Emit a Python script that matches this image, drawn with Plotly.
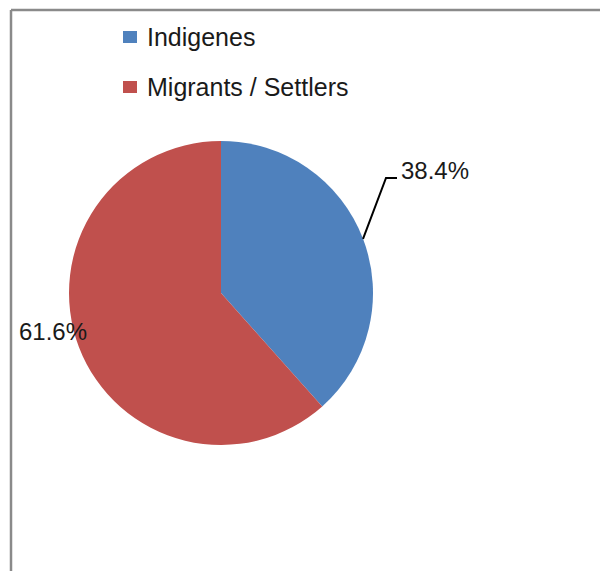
import math
import plotly.graph_objects as go

# ---- data ----
labels = ["Indigenes", "Migrants / Settlers"]
values = [38.4, 61.6]
colors = ["#4F81BD", "#C0504D"]

W, H = 600, 571
cx, cy, r = 221, 293, 152  # pie centre / radius in pixels (layout)

def px(x):
    return x / W

def py(y):
    return 1 - y / H

FONT = "Liberation Sans, Arial, sans-serif"
TXT = "#1a1a1a"

fig = go.Figure(go.Pie(
    labels=labels,
    values=values,
    marker=dict(colors=colors, line=dict(width=0)),
    sort=False,
    direction="clockwise",
    rotation=0,
    textinfo="none",
    hoverinfo="label+percent",
    showlegend=False,
    domain=dict(x=[px(cx - r), px(cx + r)], y=[py(cy + r), py(cy - r)]),
))

shapes = []
annotations = []

# chart-area border (only top and left edges visible in the crop)
shapes.append(dict(type="line", xref="paper", yref="paper",
                   x0=px(11), y0=py(10), x1=px(W + 5), y1=py(10),
                   line=dict(color="#8a8a8a", width=2.5)))
shapes.append(dict(type="line", xref="paper", yref="paper",
                   x0=px(11), y0=py(10), x1=px(11), y1=py(H + 5),
                   line=dict(color="#8a8a8a", width=2.5)))

# manual legend
leg_y = [37, 87]
for lab, col, ly in zip(labels, colors, leg_y):
    shapes.append(dict(type="rect", xref="paper", yref="paper",
                       x0=px(123), x1=px(137), y0=py(ly - 6), y1=py(ly + 6),
                       fillcolor=col, line=dict(width=0)))
    annotations.append(dict(text=lab, xref="paper", yref="paper",
                            x=px(145), y=py(ly), xanchor="left", yanchor="middle",
                            showarrow=False, font=dict(family=FONT, size=25, color=TXT)))

# data labels
total = sum(values)
start = 0.0
mids = []
for v in values:
    frac = v / total
    mids.append((start + frac / 2) * 2 * math.pi)
    start += frac
pct = [f"{v / total * 100:.1f}%" for v in values]

# Indigenes label with leader line
a = mids[0]
ex, ey = cx + r * math.sin(a), cy - r * math.cos(a)
bx, by = 386, 178
shapes.append(dict(type="path", xref="paper", yref="paper",
                   path=f"M {px(ex)},{py(ey)} L {px(bx)},{py(by)} L {px(bx + 11)},{py(by)}",
                   line=dict(color="#000000", width=2)))
annotations.append(dict(text=pct[0], xref="paper", yref="paper",
                        x=px(bx + 13), y=py(170), xanchor="left", yanchor="middle",
                        showarrow=False, font=dict(family=FONT, size=24, color=TXT)))

# Migrants label
annotations.append(dict(text=pct[1], xref="paper", yref="paper",
                        x=px(89), y=py(331), xanchor="right", yanchor="middle",
                        showarrow=False, font=dict(family=FONT, size=24, color=TXT)))

fig.update_layout(
    width=W, height=H,
    margin=dict(l=0, r=0, t=0, b=0),
    paper_bgcolor="white",
    plot_bgcolor="white",
    shapes=shapes,
    annotations=annotations,
)

fig.write_html(
    "out.html",
    config={"displayModeBar": False},
    post_script="document.body.style.margin='0';document.body.style.overflow='hidden';",
)
